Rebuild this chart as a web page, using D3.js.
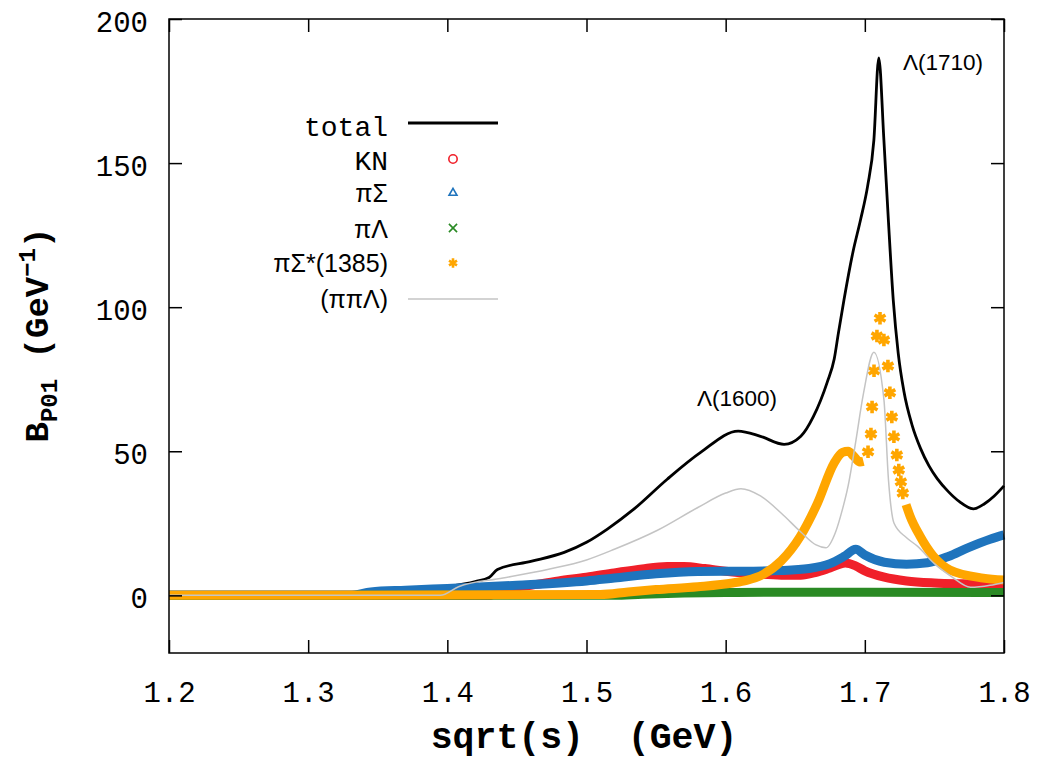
<!DOCTYPE html>
<html>
<head>
<meta charset="utf-8">
<script src="https://cdn.jsdelivr.net/npm/d3@7"></script>
<style>
  body { margin: 0; background: #fff; }
  svg { display: block; }
</style>
</head>
<body>
<div class="wrapper"></div>
<script>
const width = 1044;
const height = 762;
const margin = { top: 19, right: 40, bottom: 109, left: 169 };

const mono = "'Liberation Mono', 'Courier New', monospace";
const sans = "'Liberation Sans', Arial, sans-serif";

// tick values
const xTicks = [1.2, 1.3, 1.4, 1.5, 1.6, 1.7, 1.8];
const yTicks = [0, 50, 100, 150, 200];

// series: [sqrt(s) GeV, B (GeV^-1)]
const total = [
  [1.2, 0], [1.3, 0.3], [1.35, 1], [1.38, 1.8], [1.40, 3], [1.42, 4.8], [1.43, 6.2],
  [1.436, 9], [1.46, 11.8], [1.484, 14.9], [1.50, 18.4], [1.515, 23], [1.534, 29.9],
  [1.558, 40.3], [1.582, 49.6], [1.609, 57], [1.625, 55.2], [1.642, 52.4], [1.654, 55.2],
  [1.663, 62], [1.673, 74], [1.678, 82], [1.681, 91], [1.685, 102.5], [1.6914, 119],
  [1.697, 130.5], [1.702, 142], [1.7065, 158], [1.710, 186.5], [1.7137, 158],
  [1.717, 129.5], [1.7205, 102], [1.724, 84], [1.728, 71], [1.734, 59], [1.74, 51],
  [1.746, 45], [1.752, 40.5], [1.76, 36], [1.768, 32.5], [1.778, 30],
  [1.786, 31.8], [1.793, 34.5], [1.80, 38]
];

const kn = [
  [1.2, 0], [1.43, 0], [1.44, 2], [1.46, 3.5], [1.48, 5], [1.50, 6.3], [1.52, 7.8],
  [1.54, 9.2], [1.558, 10], [1.57, 10], [1.585, 9.3], [1.60, 8.4], [1.62, 7.5],
  [1.64, 7], [1.654, 7], [1.665, 8], [1.675, 9.5], [1.686, 11.2], [1.693, 10.3],
  [1.70, 8.5], [1.714, 6.3], [1.73, 5], [1.75, 4.3], [1.77, 4], [1.80, 3.8]
];

const piSigma = [
  [1.2, 0], [1.33, 0], [1.345, 1.2], [1.37, 1.8], [1.40, 2.4], [1.45, 3.5], [1.50, 5],
  [1.52, 6], [1.55, 7.5], [1.58, 8.3], [1.60, 8.4], [1.62, 8.4], [1.64, 8.6],
  [1.66, 9.3], [1.675, 11], [1.685, 13.5], [1.6935, 16], [1.70, 14], [1.714, 11.5],
  [1.73, 10.8], [1.745, 11.3], [1.76, 13.5], [1.774, 16.5], [1.79, 19.5], [1.80, 21]
];

const piLambda = [
  [1.2, 0], [1.52, 0], [1.54, 0.4], [1.57, 0.8], [1.60, 1], [1.65, 1.1], [1.70, 1.1],
  [1.80, 1]
];

const piSigmaStar = [
  [1.2, 0], [1.51, 0.3], [1.53, 1.2], [1.55, 2], [1.58, 3], [1.605, 4.3], [1.615, 5.2],
  [1.627, 7.3], [1.64, 12], [1.6534, 20.3], [1.666, 32], [1.678, 46], [1.684, 49.6],
  [1.688, 50], [1.692, 48.3], [1.6965, 46.3], [1.699, 46.5],
  [1.7023, 49.8], [1.7044, 56], [1.7052, 65.4], [1.7066, 77.9], [1.7087, 90],
  [1.7109, 96.2], [1.7137, 88.6], [1.7166, 79.6], [1.718, 70.3], [1.7194, 61.9],
  [1.7209, 55], [1.723, 48.7], [1.7244, 43.5], [1.7259, 39.4], [1.7273, 35.5],
  [1.7296, 31.5], [1.7325, 27.5], [1.7396, 20.6], [1.749, 13.7], [1.7612, 8.8],
  [1.785, 6], [1.80, 5.3]
];

const piPiLambda = [
  [1.2, 0], [1.395, 0], [1.408, 3], [1.44, 6], [1.472, 9], [1.50, 12.3], [1.52, 16],
  [1.551, 22.6], [1.58, 30.5], [1.60, 35.5], [1.611, 37], [1.625, 34.5], [1.64, 28.5],
  [1.654, 22], [1.665, 17.5], [1.672, 16.5], [1.679, 22], [1.684, 30], [1.688, 38],
  [1.693, 52], [1.699, 70], [1.7065, 84.4], [1.7137, 68], [1.717, 40], [1.721, 25],
  [1.73, 20], [1.738, 17], [1.75, 11], [1.762, 6.6], [1.776, 2.8], [1.79, 3.5], [1.80, 4.5]
];

const legendLabels = ["total", "KN", "πΣ", "πΛ", "πΣ*(1385)", "(ππΛ)"];
const peakLabels = ["Λ(1600)", "Λ(1710)"];

const colors = {
  total: "#000000",
  kn: "#f0202a",
  piSigma: "#1f74bd",
  piLambda: "#2a8a24",
  piSigmaStar: "#ffa600",
  piPiLambda: "#c4c4c4"
};

const x = d3.scaleLinear([1.2, 1.8], [margin.left, width - margin.right]);
const y = d3.scaleLinear([-20, 200], [height - margin.bottom, margin.top]);

const svg = d3
  .select(".wrapper")
  .append("svg")
  .attr("width", width)
  .attr("height", height)
  .attr("viewBox", [0, 0, width, height]);

const line = d3
  .line()
  .x((d) => x(d[0]))
  .y((d) => y(d[1]))
  .curve(d3.curveMonotoneX);

// total first, then the point series, thin grey on top
svg.append("path")
  .attr("d", line(total))
  .attr("fill", "none")
  .attr("stroke", colors.total)
  .attr("stroke-width", 2.8)
  .attr("stroke-linejoin", "round");

const band = (data, color) =>
  svg.append("path")
    .attr("d", line(data))
    .attr("fill", "none")
    .attr("stroke", color)
    .attr("stroke-width", 9)
    .attr("stroke-linejoin", "round");

band(kn, colors.kn);
band(piSigma, colors.piSigma);
band(piLambda, colors.piLambda);

// orange: dense part is a band, steep peak shows separate points
const isPeak = (d) => d[0] > 1.7 && d[0] < 1.728;
svg.append("path")
  .attr("d", line.defined((d) => !isPeak(d))(piSigmaStar))
  .attr("fill", "none")
  .attr("stroke", colors.piSigmaStar)
  .attr("stroke-width", 9)
  .attr("stroke-linejoin", "round");
line.defined(() => true);

const star = d3.symbol(d3.symbolAsterisk, 110);
svg.append("g")
  .selectAll("path")
  .data(piSigmaStar.filter(isPeak))
  .join("path")
  .attr("transform", (d) => `translate(${x(d[0])},${y(d[1])})`)
  .attr("d", star)
  .attr("fill", "none")
  .attr("stroke", colors.piSigmaStar)
  .attr("stroke-width", 3.6);

svg.append("path")
  .attr("d", line(piPiLambda))
  .attr("fill", "none")
  .attr("stroke", colors.piPiLambda)
  .attr("stroke-width", 1.5);

// frame and ticks (mirrored, inward)
const axisStyle = (g) => {
  g.select(".domain").remove();
  g.selectAll("line").attr("stroke", "#000").attr("stroke-width", 1.5);
};

svg.append("g")
  .attr("transform", `translate(0,${height - margin.bottom})`)
  .call(d3.axisBottom(x).tickValues(xTicks).tickSize(-13).tickFormat(d3.format(".1f")))
  .call(axisStyle)
  .call((g) => g.selectAll("text")
    .attr("y", 49)
    .attr("dy", null)
    .attr("fill", "#000")
    .style("font-family", mono)
    .style("font-size", "29px"));

svg.append("g")
  .attr("transform", `translate(0,${margin.top})`)
  .call(d3.axisTop(x).tickValues(xTicks).tickSize(-13).tickFormat(""))
  .call(axisStyle);

svg.append("g")
  .attr("transform", `translate(${margin.left},0)`)
  .call(d3.axisLeft(y).tickValues(yTicks).tickSize(-13))
  .call(axisStyle)
  .call((g) => g.selectAll("text")
    .attr("x", -21)
    .attr("dy", 12)
    .attr("fill", "#000")
    .style("font-family", mono)
    .style("font-size", "29px"));

svg.append("g")
  .attr("transform", `translate(${width - margin.right},0)`)
  .call(d3.axisRight(y).tickValues(yTicks).tickSize(-13).tickFormat(""))
  .call(axisStyle);

svg.append("rect")
  .attr("x", margin.left)
  .attr("y", margin.top)
  .attr("width", width - margin.left - margin.right)
  .attr("height", height - margin.top - margin.bottom)
  .attr("fill", "none")
  .attr("stroke", "#000")
  .attr("stroke-width", 1.5);

// axis titles
svg.append("text")
  .attr("x", 584)
  .attr("y", 748)
  .attr("text-anchor", "middle")
  .style("font-family", mono)
  .style("font-weight", "bold")
  .style("font-size", "36.5px")
  .style("white-space", "pre")
  .text("sqrt(s)  (GeV)");

const yTitle = svg.append("text")
  .attr("transform", "translate(48,335) rotate(-90)")
  .attr("text-anchor", "middle")
  .style("font-family", mono)
  .style("font-weight", "bold")
  .style("font-size", "34px")
  .style("white-space", "pre");
yTitle.append("tspan").text("B");
yTitle.append("tspan").attr("dy", 9).style("font-size", "24px").text("P01");
yTitle.append("tspan").attr("dy", -9).text(" (GeV");
yTitle.append("tspan").attr("dy", -13).style("font-size", "24px").text("−1");
yTitle.append("tspan").attr("dy", 13).text(")");

// peak labels
svg.append("text")
  .attr("x", 737)
  .attr("y", 406)
  .attr("text-anchor", "middle")
  .style("font-family", sans)
  .style("font-size", "22.5px")
  .text(peakLabels[0]);

svg.append("text")
  .attr("x", 903)
  .attr("y", 70)
  .style("font-family", sans)
  .style("font-size", "22.5px")
  .text(peakLabels[1]);

// legend
const keyY = [123, 159, 193, 228, 263, 299];
const legendFonts = [mono, mono, sans, sans, sans, sans];
const legendBase = [13, 11, 9, 10, 9, 9];

legendLabels.forEach((label, i) => {
  svg.append("text")
    .attr("x", 388)
    .attr("y", keyY[i] + legendBase[i])
    .attr("text-anchor", "end")
    .style("font-family", legendFonts[i])
    .style("font-size", legendFonts[i] === mono ? "28px" : "25px")
    .text(label);
});

svg.append("line")
  .attr("x1", 408).attr("x2", 498)
  .attr("y1", keyY[0]).attr("y2", keyY[0])
  .attr("stroke", colors.total).attr("stroke-width", 2.8);

svg.append("line")
  .attr("x1", 408).attr("x2", 498)
  .attr("y1", keyY[5]).attr("y2", keyY[5])
  .attr("stroke", colors.piPiLambda).attr("stroke-width", 1.5);

const keyMarks = [
  { sym: d3.symbolCircle, size: 55, color: colors.kn, w: 1.6, row: 1 },
  { sym: d3.symbolTriangle2, size: 45, color: colors.piSigma, w: 1.6, row: 2 },
  { sym: d3.symbolTimes, size: 45, color: colors.piLambda, w: 1.6, row: 3 },
  { sym: d3.symbolAsterisk, size: 60, color: colors.piSigmaStar, w: 2.6, row: 4 }
];

keyMarks.forEach((m) => {
  svg.append("path")
    .attr("transform", `translate(453,${keyY[m.row]})`)
    .attr("d", d3.symbol(m.sym, m.size)())
    .attr("fill", "none")
    .attr("stroke", m.color)
    .attr("stroke-width", m.w);
});
</script>
</body>
</html>
